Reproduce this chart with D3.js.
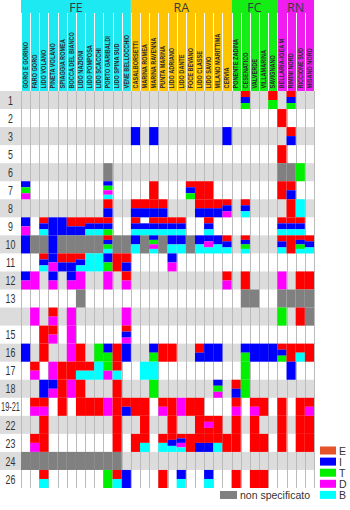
<!DOCTYPE html>
<html>
<head>
<meta charset="utf-8">
<script src="https://cdn.jsdelivr.net/npm/d3@7"></script>
<style>
  html, body { margin: 0; padding: 0; background: #fff; }
  svg { display: block; }
</style>
</head>
<body>
<svg id="chart" width="350" height="510"></svg>
<script>
// Provinces along the coast and how many beach sites each one has
const provinces = ["FE", "RA", "FC", "RN"];
const provinceSizes = [12, 11, 5, 4];
const provinceColors = ["#1DE9F2", "#FFC400", "#14EE14", "#EF1DEF"];

// Beach sites, north to south
const sites = [
  "GORO E GORINO", "FARO GORO", "LIDO VOLANO", "PINETA VOLANO", "SPIAGGIA ROMEA",
  "BOCCA DEL BIANCO", "LIDO NAZIONI", "LIDO POMPOSA", "LIDO SCACCHI", "PORTO GARIBALDI",
  "LIDO SPINA SUD", "VENE BELLOCCHIO",
  "CASALBORSETTI", "MARINA ROMEA", "MARINA RAVENNA", "PUNTA MARINA", "LIDO ADRIANO",
  "LIDO DANTE", "FOCE BEVANO", "LIDO CLASSE", "LIDO SAVIO", "MILANO MARITTIMA", "CERVIA",
  "PONENTE ZADINA", "CESENATICO", "VALVERDE", "VILLAMARINA", "SAVIGNANO",
  "BELLARIA-IGEA M", "RIMINI NORD", "RICCIONE SUD", "MISANO NORD"
];

// Survey rows
const rowLabels = ["1", "2", "3", "5", "6", "7", "8", "9", "10", "11", "12", "13", "",
                   "15", "16", "17", "18", "19-21", "22", "23", "24", "26"];

// One string per row, one token per site (FE | RA | FC | RN).
// "." = nothing recorded; each letter fills an equal slice of the cell, "_" = empty slice.
const cellCodes = [
  ". . . . . . . . . . . . | . . . . . . . . . . . | . EIT . . ET | . EIT . .",
  ". . . . . . . . . . . . | . . . . . . . . . . . | . . . . . | E . . .",
  ". . . . . . . . . . . . | I . I . . . . . . . I | . . . . . | . EI . .",
  ". . . . . . . . . . . . | . . . . . . . . . . . | . . . . . | E . . .",
  ". . . . . . . . . N . . | . . . . . . . . . . . | . . . . . | N N T .",
  "ITD . . . . . . . . ITDB . . | . . E . . . EIT E E . . | . . . . . | E EI . .",
  ". . . . . . . . . EI . . | EI EI EI EI . . . EI EI EI EID | . EIB . . . | . E B .",
  "ID . EIB I I EI EI EIB EIB EIT . . | EIB _IB EIB EIB EIB EIB . . EIB . . | . . . . . | EIB EIB EIB .",
  "I N N I N N N N N EITB N N | IB N ITDB N IB IB N IB IDB IB EIB | . EITB . . . | EIB E EITB EIB",
  ". . EIB ID EI EI EIB B B IT E EI | . . . . ID . . . . . . | . . . . . | . . . .",
  "ID D . ID . ID D . . D . ED | . . . . . . . . . . ED | . E . . . | D . E E",
  ". . . . . . N . . . . . | . . . . . . . . . . . | . N N . . | N N N N",
  ". D . ED . D . . . . . D | . . . . . . . . . . . | . . . . . | T . E N",
  ". . E ED . D . . . . . EID | . . . . . . . . . . . | . . . . . | . . . .",
  "I . E . . D E . T IT E I | . . IT E E . . EI I I . | . IT I I I | EIT E EB E",
  ". ED . D E E EB EB B TD EB . | . B B . . . . . . . . | . T . . . | . I . .",
  ". . I ID E D E . . . E . | . . T . . . . . . ITD . | EI T . . . | . . . .",
  ". ED ED . E . E E E D E EI | E E . ED E D E E . . . | ED . ED E . | E . E ED",
  ". . E . . . . . . . E . | . E . . E . . E EDE E . | E . E . . | E . E E",
  ". ED E . . . . . . . E . | E EB . EB EIB EIDB E EI EI EB E | E . E E . | E . E E",
  "N N N N N N N N N N N . | . . . . . . . . . . . | . . . . . | . . . .",
  ". . EB . . . . . . T EB I | . . . E . IB . . IB . . | E . E E . | . . . ."
];

// Category colours used in the grid (N = not specified)
const categoryKeys = ["E", "I", "T", "D", "B", "N"];
const categoryFills = ["#FF0000", "#0000FF", "#00F000", "#FF00FF", "#00FFFF", "#808080"];

// Legend entries
const legendKeys = ["E", "I", "T", "D", "B"];
const legendFills = ["#E5532B", "#0000FF", "#00F000", "#FF00FF", "#00FFFF"];
const unspecifiedLabel = "non specificato";

const svg = d3.select("#chart");
const gridLeft = 21, gridRight = 314, headerBand = 13, gridTop = 91, gridBottom = 488;

const fill = d3.scaleOrdinal().domain(categoryKeys).range(categoryFills);
const x = d3.scaleBand().domain(d3.range(sites.length)).range([gridLeft, gridRight]).padding(0);
const y = d3.scaleBand().domain(d3.range(rowLabels.length)).range([gridTop, gridBottom]).padding(0);

const rows = cellCodes.map(s => s.split(/\s+/).filter(t => t && t !== "|"));

// alternating row shading
svg.append("g").selectAll("rect")
  .data(rowLabels.map((d, i) => i).filter(i => i % 2 === 0))
  .join("rect")
  .attr("x", 0).attr("y", i => y(i))
  .attr("width", gridRight).attr("height", y.bandwidth())
  .attr("fill", "#DCDCDC");

// column separators in the grid
const bounds = d3.range(sites.length + 1).map(i => i < sites.length ? x(i) : gridRight);
svg.append("g").selectAll("line")
  .data(bounds)
  .join("line")
  .attr("x1", d => Math.round(d) + 0.5).attr("x2", d => Math.round(d) + 0.5)
  .attr("y1", gridTop).attr("y2", gridBottom)
  .attr("stroke", "#BBBBBB").attr("stroke-width", 1);

// cell slices
const slices = [];
rows.forEach((row, r) => {
  row.forEach((code, c) => {
    if (code === ".") return;
    const n = code.length;
    code.split("").forEach((k, j) => {
      if (k === "_") return;
      slices.push({ r, c, k, j, n });
    });
  });
});
svg.append("g").selectAll("rect")
  .data(slices)
  .join("rect")
  .attr("x", d => x(d.c))
  .attr("y", d => y(d.r) + d.j * y.bandwidth() / d.n)
  .attr("width", x.bandwidth())
  .attr("height", d => y.bandwidth() / d.n)
  .attr("fill", d => fill(d.k));

// province header bands
const starts = provinceSizes.map((n, i) => d3.sum(provinceSizes.slice(0, i)));
const header = svg.append("g");
header.selectAll("rect")
  .data(provinces)
  .join("rect")
  .attr("x", (d, i) => x(starts[i]))
  .attr("y", 0)
  .attr("width", (d, i) => {
    const end = starts[i] + provinceSizes[i];
    return (end < sites.length ? x(end) : gridRight) - x(starts[i]);
  })
  .attr("height", gridTop)
  .attr("fill", (d, i) => provinceColors[i]);

header.selectAll("line")
  .data(bounds)
  .join("line")
  .attr("x1", d => Math.round(d) + 0.5).attr("x2", d => Math.round(d) + 0.5)
  .attr("y1", headerBand).attr("y2", gridTop)
  .attr("stroke", "#FFFFFF").attr("stroke-width", 1);

header.selectAll("text.prov")
  .data(provinces)
  .join("text")
  .attr("class", "prov")
  .attr("x", (d, i) => x(starts[i]) + provinceSizes[i] * x.bandwidth() / 2)
  .attr("y", 11.5)
  .attr("text-anchor", "middle")
  .attr("font-family", "Open Sans, Liberation Sans, sans-serif")
  .attr("font-size", 12.5)
  .attr("fill", "#3a3a3a")
  .text(d => d);

// site names, vertical, reading upwards from the bottom of the header
header.selectAll("text.site")
  .data(sites)
  .join("text")
  .attr("class", "site")
  .attr("text-anchor", "start")
  .attr("transform", (d, i) => `translate(${x(i) + x.bandwidth() / 2 + 2.3},88.5) rotate(-90) scale(0.86,1)`)
  .attr("font-family", "Liberation Sans, Arial, sans-serif")
  .attr("font-weight", "bold")
  .attr("font-size", 6.5)
  .attr("fill", "#2a2a2a")
  .text(d => d);

// row labels
const rowText = svg.append("g").selectAll("text")
  .data(rowLabels)
  .join("text")
  .attr("text-anchor", "middle")
  .attr("font-family", "Liberation Sans, Arial, sans-serif")
  .attr("font-size", 13)
  .attr("fill", "#333")
  .text(d => d);
rowText.each(function(d, i) {
  const w = this.getComputedTextLength() || 1;
  const sx = Math.min(0.68, 19 / w);
  d3.select(this).attr("transform", `translate(10.5,${y(i) + y.bandwidth() / 2 + 4.7}) scale(${sx},1)`);
});

// legend
const legend = svg.append("g");
legend.selectAll("rect")
  .data(legendKeys)
  .join("rect")
  .attr("x", 320).attr("y", (d, i) => 446.5 + i * 11.1)
  .attr("width", 16).attr("height", 8)
  .attr("fill", (d, i) => legendFills[i]);
legend.selectAll("text")
  .data(legendKeys)
  .join("text")
  .attr("x", 339).attr("y", (d, i) => 454.5 + i * 11.1)
  .attr("font-family", "Liberation Sans, Arial, sans-serif")
  .attr("font-size", 10.5)
  .attr("fill", "#333")
  .text(d => d);

legend.append("rect")
  .attr("x", 220).attr("y", 491).attr("width", 17).attr("height", 8)
  .attr("fill", fill("N"));
legend.append("text")
  .attr("x", 240).attr("y", 499)
  .attr("font-family", "Liberation Sans, Arial, sans-serif")
  .attr("font-size", 10.5)
  .attr("fill", "#333")
  .text(unspecifiedLabel);
</script>
</body>
</html>
